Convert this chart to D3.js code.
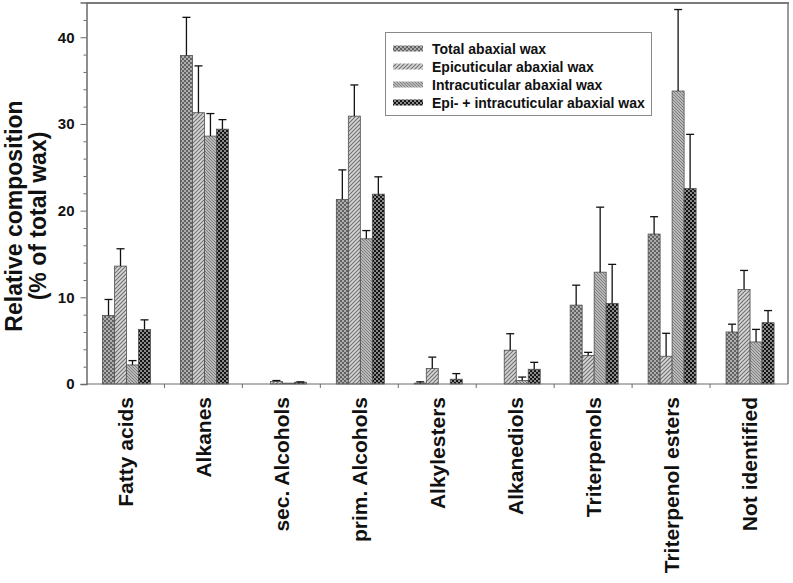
<!DOCTYPE html>
<html>
<head>
<meta charset="utf-8">
<script src="https://cdn.jsdelivr.net/npm/d3@7"></script>
<style>
  html, body { margin: 0; padding: 0; background: #fff; }
  svg { display: block; font-family: "Liberation Sans", Arial, sans-serif; }
</style>
</head>
<body>
<svg id="chart" width="793" height="583"></svg>
<script>
const categories = ["Fatty acids", "Alkanes", "sec. Alcohols", "prim. Alcohols", "Alkylesters",
  "Alkanediols", "Triterpenols", "Triterpenol esters", "Not identified"];
const seriesNames = ["Total abaxial wax", "Epicuticular abaxial wax",
  "Intracuticular abaxial wax", "Epi- + intracuticular abaxial wax"];
const totalVals = [7.9, 37.9, 0, 21.3, 0.1, 0, 9.1, 17.3, 6.0];
const totalErr  = [1.85, 4.4, 0, 3.4, 0.15, 0, 2.3, 2.0, 0.9];
const epiVals   = [13.6, 31.3, 0.3, 30.9, 1.8, 3.9, 3.3, 3.2, 10.9];
const epiErr    = [2.0, 5.4, 0.1, 3.6, 1.3, 1.9, 0.35, 2.65, 2.2];
const intraVals = [2.2, 28.6, 0.1, 16.75, 0, 0.4, 12.9, 33.8, 4.85];
const intraErr  = [0.5, 2.6, 0, 0.95, 0, 0.4, 7.5, 9.4, 1.45];
const bothVals  = [6.3, 29.4, 0.2, 21.9, 0.55, 1.7, 9.3, 22.55, 7.07];
const bothErr   = [1.1, 1.1, 0.05, 2.0, 0.65, 0.8, 4.5, 6.25, 1.4];
const yTicks = [0, 10, 20, 30, 40];

const series = [
  { name: seriesNames[0], vals: totalVals, err: totalErr, pat: "url(#pTotal)" },
  { name: seriesNames[1], vals: epiVals, err: epiErr, pat: "url(#pEpi)" },
  { name: seriesNames[2], vals: intraVals, err: intraErr, pat: "url(#pIntra)" },
  { name: seriesNames[3], vals: bothVals, err: bothErr, pat: "url(#pBoth)" }
];

const svg = d3.select("#chart");
const pLeft = 86.5, pRight = 788, pTop = 2.6, pBottom = 384;

// patterns
const defs = svg.append("defs");
function checker(id, bg, fg) {
  const p = defs.append("pattern").attr("id", id).attr("patternUnits", "userSpaceOnUse")
    .attr("width", 4).attr("height", 4);
  p.append("rect").attr("width", 4).attr("height", 4).attr("fill", bg);
  p.append("rect").attr("x", 0).attr("y", 0).attr("width", 2).attr("height", 2).attr("fill", fg);
  p.append("rect").attr("x", 2).attr("y", 2).attr("width", 2).attr("height", 2).attr("fill", fg);
}
checker("pTotal", "#adadad", "#636363");
checker("pBoth", "#8a8a8a", "#151515");
function stripes(id, bg, fg, dir, sp) {
  const p = defs.append("pattern").attr("id", id).attr("patternUnits", "userSpaceOnUse")
    .attr("width", sp).attr("height", sp);
  p.append("rect").attr("width", sp).attr("height", sp).attr("fill", bg);
  const d = dir > 0
    ? `M0,${sp} L${sp},0 M${-sp/2},${sp/2} L${sp/2},${-sp/2} M${sp/2},${sp*1.5} L${sp*1.5},${sp/2}`
    : `M0,0 L${sp},${sp} M${-sp/2},${sp/2} L${sp/2},${sp*1.5} M${sp/2},${-sp/2} L${sp*1.5},${sp/2}`;
  p.append("path").attr("d", d).attr("stroke", fg).attr("stroke-width", 1.1);
}
stripes("pEpi", "#d6d6d6", "#707070", 1, 4);
stripes("pIntra", "#d2d2d2", "#7a7a7a", -1, 3);

const x = d3.scaleBand().domain(categories).range([pLeft, pRight]).paddingInner(0).paddingOuter(0);
const xInner = d3.scaleBand().domain(d3.range(4)).range([16, 64]);
const y = d3.scaleLinear().domain([0, 44]).range([pBottom, pTop]);

// bars
const g = svg.append("g");
series.forEach((s, si) => {
  categories.forEach((c, ci) => {
    const v = s.vals[ci];
    if (v <= 0) return;
    const bx = x(c) + xInner(si);
    g.append("rect")
      .attr("x", bx).attr("y", y(v))
      .attr("width", xInner.bandwidth()).attr("height", y(0) - y(v))
      .attr("fill", s.pat).attr("stroke", "#505050").attr("stroke-width", 0.8);
    const e = s.err[ci];
    if (e > 0) {
      const cx = bx + xInner.bandwidth() / 2;
      g.append("line").attr("x1", cx).attr("x2", cx).attr("y1", y(v)).attr("y2", y(v + e))
        .attr("stroke", "#111").attr("stroke-width", 1.3);
      g.append("line").attr("x1", cx - 4).attr("x2", cx + 4).attr("y1", y(v + e)).attr("y2", y(v + e))
        .attr("stroke", "#111").attr("stroke-width", 1.3);
    }
  });
});

// frame
svg.append("line").attr("x1", pLeft).attr("x2", pRight + 1).attr("y1", pTop + 0.5).attr("y2", pTop + 0.5)
  .attr("stroke", "#7a7a7a").attr("stroke-width", 2);
svg.append("line").attr("x1", pRight).attr("x2", pRight).attr("y1", pTop).attr("y2", pBottom)
  .attr("stroke", "#7a7a7a").attr("stroke-width", 1.5);

// y axis
const yAxis = d3.axisLeft(y).tickValues(yTicks).tickSize(6).tickPadding(6).tickFormat(d3.format("d"));
const ya = svg.append("g").attr("transform", `translate(${pLeft},0)`).call(yAxis);
ya.select(".domain").attr("stroke", "#6a6a6a").attr("stroke-width", 1.5);
ya.selectAll(".tick line").attr("stroke", "#6a6a6a");
ya.selectAll(".tick text").attr("font-size", 15).attr("font-weight", "bold").attr("fill", "#111")
  .attr("font-family", "Liberation Sans, Arial, sans-serif");
const minor = d3.range(0, 44, 2).filter(v => v % 10 !== 0);
const yMinor = d3.axisLeft(y).tickValues(minor).tickSize(3).tickFormat("");
const ym = svg.append("g").attr("transform", `translate(${pLeft},0)`).call(yMinor);
ym.select(".domain").remove();
ym.selectAll(".tick line").attr("stroke", "#6a6a6a");

// x axis
const xa = svg.append("g").attr("transform", `translate(0,${pBottom})`);
xa.append("line").attr("x1", pLeft).attr("x2", pRight).attr("y1", 0).attr("y2", 0)
  .attr("stroke", "#6a6a6a").attr("stroke-width", 1.2);
categories.slice(1).forEach(c => {
  xa.append("line").attr("x1", x(c)).attr("x2", x(c)).attr("y1", 0).attr("y2", 4)
    .attr("stroke", "#6a6a6a");
});
categories.forEach(c => {
  const cx = x(c) + x.bandwidth() / 2;
  xa.append("text")
    .attr("transform", `translate(${cx + 7.5},${13}) rotate(-90)`)
    .attr("text-anchor", "end")
    .attr("font-size", 21).attr("font-weight", "bold").attr("fill", "#111")
    .text(c);
});

// y title
const yt = svg.append("text").attr("transform", `translate(0,216) rotate(-90)`)
  .attr("text-anchor", "middle").attr("font-size", 23).attr("font-weight", "bold").attr("fill", "#111");
yt.append("tspan").attr("x", 0).attr("y", 22).text("Relative composition");
yt.append("tspan").attr("x", 0).attr("y", 46).text("(% of total wax)");

// legend
const lg = svg.append("g");
lg.append("rect").attr("x", 385.5).attr("y", 32.5).attr("width", 266).attr("height", 83)
  .attr("fill", "#fff").attr("stroke", "#8a8a8a").attr("stroke-width", 1);
series.forEach((s, i) => {
  const ly = 48.5 + i * 18;
  lg.append("rect").attr("x", 393).attr("y", ly - 3).attr("width", 30).attr("height", 6)
    .attr("fill", s.pat);
  lg.append("text").attr("x", 432).attr("y", ly + 5).attr("font-size", 14).attr("font-weight", "bold")
    .attr("fill", "#111").text(s.name);
});
</script>
</body>
</html>
